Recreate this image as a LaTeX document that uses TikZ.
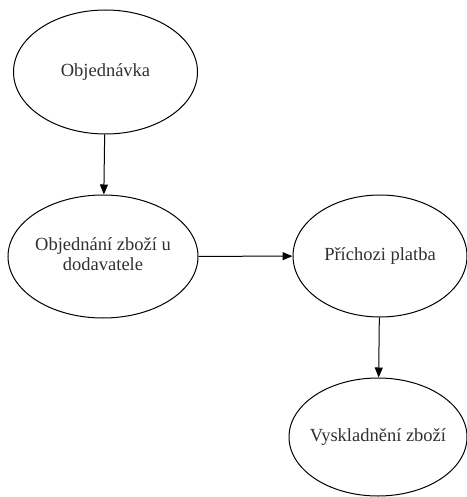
\documentclass[tikz,border=0pt]{standalone}
\usepackage{fontspec}
\setmainfont{Liberation Serif}
\newfontfamily\tnr{Liberation Serif}
\usetikzlibrary{shapes.geometric,arrows.meta}
\definecolor{txt}{HTML}{303030}
\begin{document}
\begin{tikzpicture}[x=1pt,y=-1pt,
  stage/.style={ellipse,draw=black,line width=1pt,inner sep=-20pt,
    text=txt,font=\tnr\fontsize{18.5}{22}\selectfont},
  flow/.style={draw=black,line width=1pt,-{Triangle[length=10pt,width=8pt]}}]
\useasboundingbox (0,0) rectangle (466,497);
\node[stage,minimum width=184,minimum height=124] (a) at (105.5,72) {Objednávka};
\node[stage,minimum width=190,minimum height=123] (b) at (103,256.5) {\begin{tabular}{@{}c@{}}Objednání zboží u\\[-2pt]dodavatele\end{tabular}};
\node[stage,minimum width=174,minimum height=122] (c) at (380,256) {Příchozi platba};
\node[stage,minimum width=178,minimum height=118] (d) at (378,437) {Vyskladnění zboží};
\draw[flow] (a) -- (b);
\draw[flow] (b) -- (c);
\draw[flow] (c) -- (d);
\end{tikzpicture}
\end{document}
